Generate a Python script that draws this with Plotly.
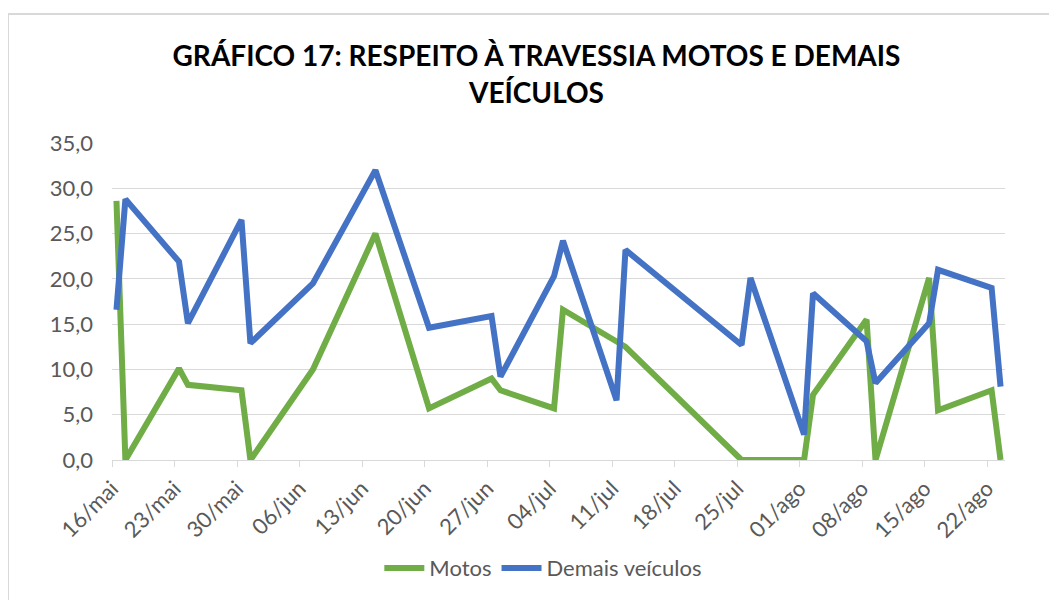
import pandas as pd
import plotly.graph_objects as go

# ---- data ----
dates = ["2022-05-16", "2022-05-17", "2022-05-23", "2022-05-24", "2022-05-30", "2022-05-31",
         "2022-06-07", "2022-06-14", "2022-06-20", "2022-06-27", "2022-06-28", "2022-07-04",
         "2022-07-05", "2022-07-11", "2022-07-12", "2022-07-25", "2022-07-26", "2022-08-01",
         "2022-08-02", "2022-08-08", "2022-08-09", "2022-08-15", "2022-08-16", "2022-08-22",
         "2022-08-23"]
motos = [28.6, 0.0, 10.1, 8.3, 7.7, 0.0, 10.0, 25.0, 5.7, 9.0, 7.7, 5.7,
         16.6, 13.1, 12.5, 0.0, 0.0, 0.0, 7.2, 15.5, 0.0, 20.1, 5.5, 7.7, 0.0]
demais = [16.6, 28.8, 21.9, 15.1, 26.5, 12.9, 19.5, 32.0, 14.6, 15.9, 9.2, 20.3,
          24.2, 6.6, 23.2, 12.7, 20.1, 2.8, 18.4, 13.1, 8.5, 15.1, 21.0, 19.0, 8.1]
tick_dates = ["2022-05-16", "2022-05-23", "2022-05-30", "2022-06-06", "2022-06-13",
              "2022-06-20", "2022-06-27", "2022-07-04", "2022-07-11", "2022-07-18",
              "2022-07-25", "2022-08-01", "2022-08-08", "2022-08-15", "2022-08-22"]
tick_labels = ["16/mai", "23/mai", "30/mai", "06/jun", "13/jun", "20/jun", "27/jun",
               "04/jul", "11/jul", "18/jul", "25/jul", "01/ago", "08/ago", "15/ago", "22/ago"]
y_ticks = [0, 5, 10, 15, 20, 25, 30, 35]

title = "GRÁFICO 17: RESPEITO À TRAVESSIA MOTOS E DEMAIS<br>VEÍCULOS"

# Excel date axis plots each day in the middle of its slot: tick at start of day
half = pd.Timedelta(hours=12)
tickvals = [d - half for d in pd.to_datetime(tick_dates)]
x_start = pd.to_datetime(dates[0]) - half
x_end = pd.to_datetime(dates[-1]) + half

FONT = "Lato"
GRAY = "#595959"
L, T, PW, PH = 104, 135, 893, 317

fig = go.Figure()
fig.add_trace(go.Scatter(x=dates, y=motos, mode="lines", name="Motos",
                         line=dict(color="#70AD47", width=6)))
fig.add_trace(go.Scatter(x=dates, y=demais, mode="lines", name="Demais veículos",
                         line=dict(color="#4472C4", width=6)))

fig.update_layout(
    width=1057, height=600,
    margin=dict(l=L, r=1057 - L - PW, t=T, b=600 - T - PH),
    paper_bgcolor="white", plot_bgcolor="white",
    separators=",.",
    font=dict(family=FONT, color=GRAY, size=22),
    title=dict(text=title, x=0.5, xanchor="center", y=0.903, yanchor="middle",
               font=dict(family=FONT, size=28, color="black", weight="bold")),
    showlegend=True,
    legend=dict(orientation="h", x=0.483, xanchor="center", y=-0.341, yanchor="middle",
                font=dict(family=FONT, size=22, color=GRAY), itemwidth=40),
    xaxis=dict(type="date", range=[x_start, x_end], tickvals=tickvals, ticktext=tick_labels,
               tickangle=-45, showgrid=False, showline=True, linecolor="#D9D9D9", linewidth=1,
               ticks="outside", tickcolor="#D9D9D9", ticklen=6, tickfont=dict(size=22, color=GRAY)),
    yaxis=dict(range=[0, 35], tickvals=y_ticks, tickformat=".1f", showgrid=True,
               gridcolor="#D9D9D9", gridwidth=1, zeroline=False, showline=False,
               ticklabelstandoff=18, tickfont=dict(size=22, color=GRAY)),
    shapes=[dict(type="rect", xref="paper", yref="paper",
                 x0=(0 - L) / PW, x1=(1070 - L) / PW,
                 y0=-0.6, y1=(T + PH - 6) / PH,
                 line=dict(color="#D9D9D9", width=2), fillcolor="rgba(0,0,0,0)", layer="below")],
)

fig.write_html("out.html")
